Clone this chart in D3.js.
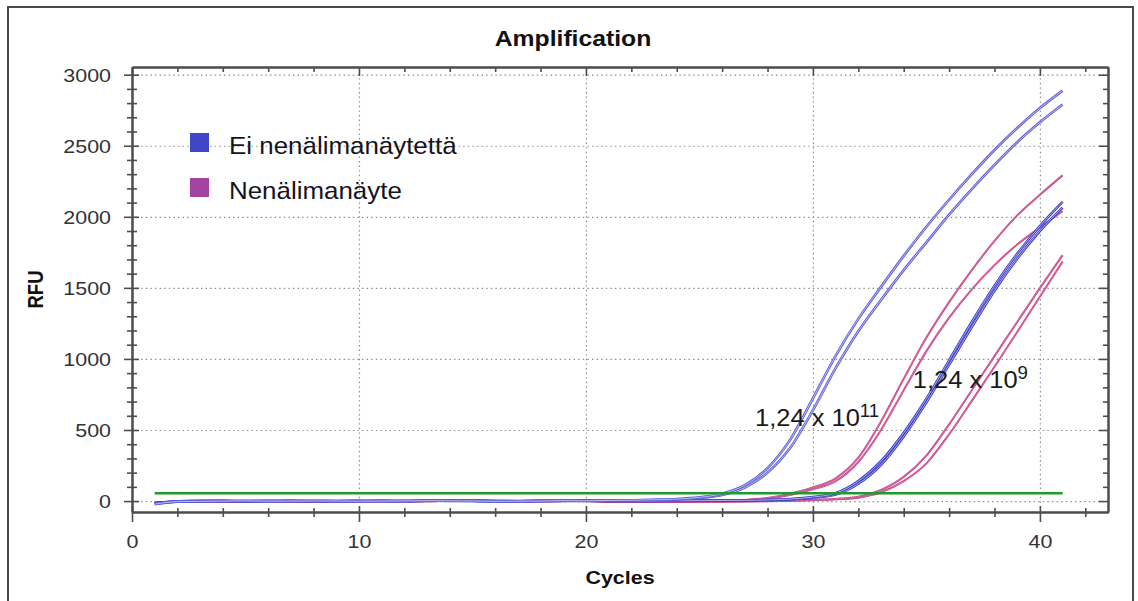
<!DOCTYPE html>
<html>
<head>
<meta charset="utf-8">
<script src="https://cdn.jsdelivr.net/npm/d3@7"></script>
<style>
  html, body { margin: 0; padding: 0; background: #fff; }
  svg { display: block; }
  text { font-family: "Liberation Sans", Arial, sans-serif; }
</style>
</head>
<body>
<svg id="chart" width="1138" height="601"></svg>
<script>
// ---- data -------------------------------------------------------------
const cycles = d3.range(1, 42);

// Ei nenälimanäytettä (without nasal sample), 1,24 x 10^11 copies
const blueHigh1 = [-22,-4,-2,0,1,-1,0,1,0,-1, 0,1,3,2,1,-2,-1,0,3,2, 4,6,9,14,26,52,112,232,432,722, 1022,1282,1507,1725,1930,2120,2300,2470,2625,2765,2888];
const blueHigh2 = [-20,-3,-1,1,0,-2,1,0,-1,0, 1,0,4,1,0,-1,-2,1,4,1, 3,5,7,11,21,43,95,200,375,640, 935,1195,1415,1625,1820,2015,2195,2365,2525,2665,2790];
// Ei nenälimanäytettä, 1,24 x 10^9 copies
const blueLow1 = [-18,-2,0,1,-1,0,1,-1,0,1, 0,-1,2,4,3,0,-1,1,2,3, 1,0,1,2,3,4,5,8,14,28, 55,140,280,480,720,990,1260,1515,1740,1935,2105];
const blueLow2 = [-16,-1,1,0,-2,1,0,0,-1,0, 1,0,3,3,2,-1,0,2,1,2, 0,1,0,1,2,3,4,6,11,23, 46,122,255,455,695,960,1225,1480,1705,1900,2065];
// Nenälimanäyte (nasal sample), 1,24 x 10^11 copies
const pinkHigh1 = [-12,-6,-3,-2,-4,-1,-3,-2,0,-1, 0,-1,-2,1,2,3,-1,-2,0,3, -2,-4,-3,-2,-1,2,8,22,52,95, 160,305,560,860,1150,1400,1625,1830,2010,2155,2292];
const pinkHigh2 = [-10,-5,-4,-3,-3,-2,-2,-3,-1,0, -1,0,-1,2,3,2,0,-1,1,2, -3,-3,-4,-3,-2,1,6,17,42,82, 140,275,500,780,1055,1290,1490,1660,1805,1925,2040];
// Nenälimanäyte, 1,24 x 10^9 copies
const pinkLow1 = [-8,-5,-4,-4,-3,-3,-2,-3,-2,-2, -1,0,1,3,2,1,-1,-2,2,1, -3,-4,-4,-3,-3,-3,-2,0,3,8, 15,30,78,170,320,540,780,1020,1260,1498,1730];
const pinkLow2 = [-9,-6,-5,-4,-4,-3,-3,-3,-2,-2, -2,-1,0,2,1,0,-2,-2,1,0, -4,-4,-5,-4,-4,-4,-3,-1,2,6, 12,24,62,140,265,470,705,945,1190,1438,1685];

const threshold = 55;

const xMajorTicks = [0, 10, 20, 30, 40];
const xMinorTicks = [2, 4, 6, 8, 12, 14, 16, 18, 22, 24, 26, 28, 32, 34, 36, 38, 42];
const yMajorTicks = [0, 500, 1000, 1500, 2000, 2500, 3000];
const yMinorTicks = d3.range(100, 3001, 100).filter(v => v % 500 !== 0);

const legendLabels = ["Ei nenälimanäytettä", "Nenälimanäyte"];
const legendColors = ["#4046c8", "#a443a2"];
const annotationBase = "1,24 x 10";
const annotationExp = ["11", "9"];

// ---- layout -----------------------------------------------------------
const svg = d3.select("#chart");
const plot = { left: 132, right: 1108, top: 67, bottom: 512 };
const SX = 1.16;              // horizontal glyph stretch of the axis texts
const axisColor = "#4d4d4d";
const textColor = "#333";

const x = d3.scaleLinear().domain([0, 43]).range([plot.left, plot.right]);
const y = d3.scaleLinear().domain([-77, 3054]).range([plot.bottom, plot.top]);

// outer panel border
svg.append("rect")
  .attr("x", 8).attr("y", 7).attr("width", 1125).attr("height", 620)
  .attr("fill", "#fff").attr("stroke", "#4a4a4a").attr("stroke-width", 2);

// ---- grid ---------------------------------------------------------------
const grid = svg.append("g").attr("class", "grid");
grid.append("g")
  .attr("transform", `translate(0,${plot.bottom})`)
  .call(d3.axisBottom(x).tickValues(xMajorTicks.filter(d => d > 0))
        .tickSize(-(plot.bottom - plot.top)).tickFormat(""))
  .call(g => g.select(".domain").remove());
grid.append("g")
  .attr("transform", `translate(${plot.left},0)`)
  .call(d3.axisLeft(y).tickValues(yMajorTicks)
        .tickSize(-(plot.right - plot.left)).tickFormat(""))
  .call(g => g.select(".domain").remove());
grid.selectAll("line")
  .attr("stroke", "#8a8a8a")
  .attr("stroke-width", 1.2)
  .attr("stroke-dasharray", "1.4,3.2");

// ---- curves -------------------------------------------------------------
const line = d3.line()
  .x((d, i) => x(cycles[i]))
  .y(d => y(d))
  .curve(d3.curveMonotoneX);

const curves = [
  { values: pinkLow2,  color: "#c8478a", kind: "pink" },
  { values: pinkLow1,  color: "#c8478a", kind: "pink" },
  { values: pinkHigh2, color: "#c8478a", kind: "pink" },
  { values: pinkHigh1, color: "#c8478a", kind: "pink" },
  { values: blueLow2,  color: "#3c3cc8", kind: "blue" },
  { values: blueLow1,  color: "#3c3cc8", kind: "blue" },
  { values: blueHigh2, color: "#5d5dd8", kind: "blue" },
  { values: blueHigh1, color: "#5d5dd8", kind: "blue" }
];

const curveG = svg.append("g").attr("class", "curves");
curves.forEach(s => {
  curveG.append("path")
    .attr("d", line(s.values))
    .attr("fill", "none")
    .attr("stroke", s.color)
    .attr("stroke-width", s.kind === "blue" ? 2.6 : 2.0)
    .attr("stroke-linejoin", "round");
  curveG.append("path")
    .attr("d", line(s.values))
    .attr("fill", "none")
    .attr("stroke", "#ffffff")
    .attr("stroke-opacity", s.kind === "blue" ? 0.65 : 0.3)
    .attr("stroke-width", s.kind === "blue" ? 0.9 : 0.6);
});

// threshold line
svg.append("line")
  .attr("x1", x(cycles[0])).attr("x2", x(cycles[cycles.length - 1]))
  .attr("y1", y(threshold)).attr("y2", y(threshold))
  .attr("stroke", "#1f9a2c").attr("stroke-width", 2.6);

// ---- axes ---------------------------------------------------------------
function styleAxis(g) {
  g.select(".domain").attr("stroke", axisColor).attr("stroke-width", 2);
  g.selectAll(".tick line").attr("stroke", axisColor).attr("stroke-width", 1.6);
}

// top and right frame with inward ticks
svg.append("g").attr("transform", `translate(0,${plot.top})`)
  .call(d3.axisTop(x).tickValues(xMinorTicks).tickSize(-5).tickSizeOuter(0).tickFormat(""))
  .call(styleAxis);
svg.append("g").attr("transform", `translate(0,${plot.top})`)
  .call(d3.axisTop(x).tickValues(xMajorTicks).tickSize(-9).tickSizeOuter(0).tickFormat(""))
  .call(styleAxis);
svg.append("g").attr("transform", `translate(${plot.right},0)`)
  .call(d3.axisRight(y).tickValues(yMinorTicks).tickSize(-5).tickSizeOuter(0).tickFormat(""))
  .call(styleAxis);
svg.append("g").attr("transform", `translate(${plot.right},0)`)
  .call(d3.axisRight(y).tickValues(yMajorTicks).tickSize(-9).tickSizeOuter(0).tickFormat(""))
  .call(styleAxis);

// left axis: ticks cross the axis line
svg.append("g").attr("transform", `translate(${plot.left},0)`)
  .call(d3.axisLeft(y).tickValues(yMinorTicks).tickSize(5).tickSizeOuter(0).tickFormat(""))
  .call(styleAxis)
  .call(g => g.selectAll(".tick line").attr("x1", 5));
svg.append("g").attr("transform", `translate(${plot.left},0)`)
  .call(d3.axisLeft(y).tickValues(yMajorTicks).tickSize(8).tickSizeOuter(0).tickFormat(d3.format("d")))
  .call(styleAxis)
  .call(g => g.selectAll(".tick line").attr("x1", 7))
  .call(g => g.selectAll(".tick text")
    .attr("x", null).attr("dy", null).attr("y", null)
    .attr("transform", `translate(-21,6.6) scale(${SX},1)`)
    .attr("text-anchor", "end")
    .attr("font-family", "Liberation Sans, Arial, sans-serif")
    .attr("font-size", 18.5)
    .attr("fill", textColor));

// bottom axis: ticks cross the axis line
svg.append("g").attr("transform", `translate(0,${plot.bottom})`)
  .call(d3.axisBottom(x).tickValues(xMinorTicks).tickSize(5).tickSizeOuter(0).tickFormat(""))
  .call(styleAxis)
  .call(g => g.selectAll(".tick line").attr("y1", -4));
svg.append("g").attr("transform", `translate(0,${plot.bottom})`)
  .call(d3.axisBottom(x).tickValues(xMajorTicks).tickSize(10).tickSizeOuter(0).tickFormat(d3.format("d")))
  .call(styleAxis)
  .call(g => g.selectAll(".tick line").attr("y1", -6))
  .call(g => g.selectAll(".tick text")
    .attr("x", null).attr("dy", null).attr("y", null)
    .attr("transform", `translate(0,36) scale(${SX},1)`)
    .attr("text-anchor", "middle")
    .attr("font-family", "Liberation Sans, Arial, sans-serif")
    .attr("font-size", 18.5)
    .attr("fill", textColor));

// ---- titles -------------------------------------------------------------
svg.append("text")
  .attr("transform", `translate(573,46) scale(1.15,1)`)
  .attr("text-anchor", "middle")
  .attr("font-weight", "bold").attr("font-size", 21.5)
  .attr("fill", "#111")
  .text("Amplification");

svg.append("text")
  .attr("transform", `translate(${(plot.left + plot.right) / 2},584) scale(${SX},1)`)
  .attr("text-anchor", "middle")
  .attr("font-weight", "bold").attr("font-size", 18.5)
  .attr("fill", "#111")
  .text("Cycles");

svg.append("text")
  .attr("transform", `translate(43,${(plot.top + plot.bottom) / 2}) scale(${SX},1) rotate(-90)`)
  .attr("text-anchor", "middle")
  .attr("font-weight", "bold").attr("font-size", 18.5)
  .attr("fill", "#111")
  .text("RFU");

// ---- legend -------------------------------------------------------------
const legend = svg.append("g").attr("transform", "translate(190,133)");
legendLabels.forEach((label, i) => {
  const row = legend.append("g").attr("transform", `translate(0,${i * 45})`);
  row.append("rect")
    .attr("width", 19).attr("height", 19)
    .attr("fill", legendColors[i]);
  row.append("text")
    .attr("transform", "translate(39,21) scale(1.08,1)")
    .attr("font-size", 24)
    .attr("fill", "#14141e")
    .text(label);
});

// ---- concentration labels -------------------------------------------------
const annot = [
  { cx: 27.45, v: 528, exp: annotationExp[0] },
  { cx: 34.4, v: 795, exp: annotationExp[1] }
];
annot.forEach(a => {
  const t = svg.append("text")
    .attr("transform", `translate(${x(a.cx)},${y(a.v)}) scale(1.04,1)`)
    .attr("font-size", 24.5)
    .attr("fill", "#1a1a1a");
  t.append("tspan").text(annotationBase);
  t.append("tspan").attr("dy", -9).attr("font-size", 18).text(a.exp);
});
</script>
</body>
</html>
